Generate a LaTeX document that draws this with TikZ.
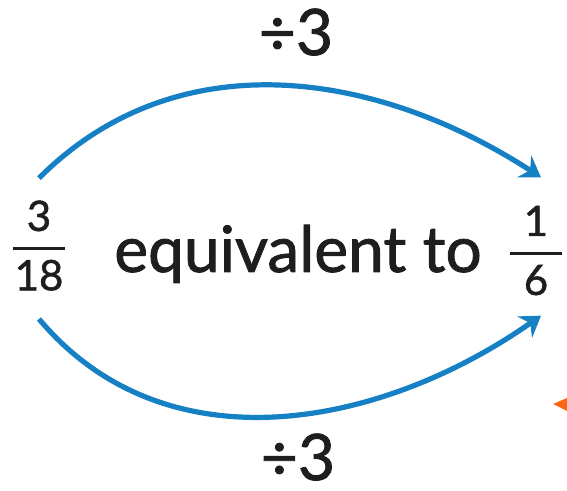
\documentclass[tikz,border=0pt]{standalone}
\usepackage{amsmath}
\usepackage{fontspec}
\setmainfont{Lato}[FakeBold=1.3]
\usepackage{tikz}
\usetikzlibrary{arrows.meta}
\definecolor{arcblue}{RGB}{22,128,196}
\definecolor{inkgrey}{RGB}{30,30,30}
\definecolor{tiporange}{RGB}{255,102,20}
\newcommand{\numfrac}[2]{$\genfrac{}{}{1.6pt}{0}{\makebox[26pt]{\text{#1}}}{\makebox[26pt]{\text{#2}}}$}

\begin{document}
\begin{tikzpicture}[x=0.5pt,y=0.5pt,>=Stealth,
  arc/.style={arcblue,line width=2.6pt,-{Stealth[length=10pt,width=13pt,inset=3.5pt]}},
  frac/.style={inner sep=0pt,anchor=base,text=inkgrey,font=\fontsize{21}{23}\selectfont},
  big/.style={inner sep=0pt,anchor=base,text=inkgrey,font=\fontsize{32}{36}\selectfont}]
\useasboundingbox (0,0) rectangle (567,-491);
\node[frac](f318) at (39,-259){\numfrac{3}{18}};
\node[frac](f16) at (536,-264){\numfrac{1}{6}};
\node[big](eq) at (298,-272){equivalent to};
\node[big](divtop) at (296,-55){÷3};
\node[big](divbot) at (298,-480){÷3};
\draw[arc]([yshift=11pt]f318.north) to[out=45,in=147] ([xshift=2.5pt,yshift=14pt]f16.north);
\draw[arc]([yshift=-14pt]f318.south) to[out=-50,in=-145] ([xshift=2.5pt,yshift=-10pt]f16.south);
\fill[tiporange](553,-404)--(567,-398)--(567,-411)--cycle;
\end{tikzpicture}
\end{document}
